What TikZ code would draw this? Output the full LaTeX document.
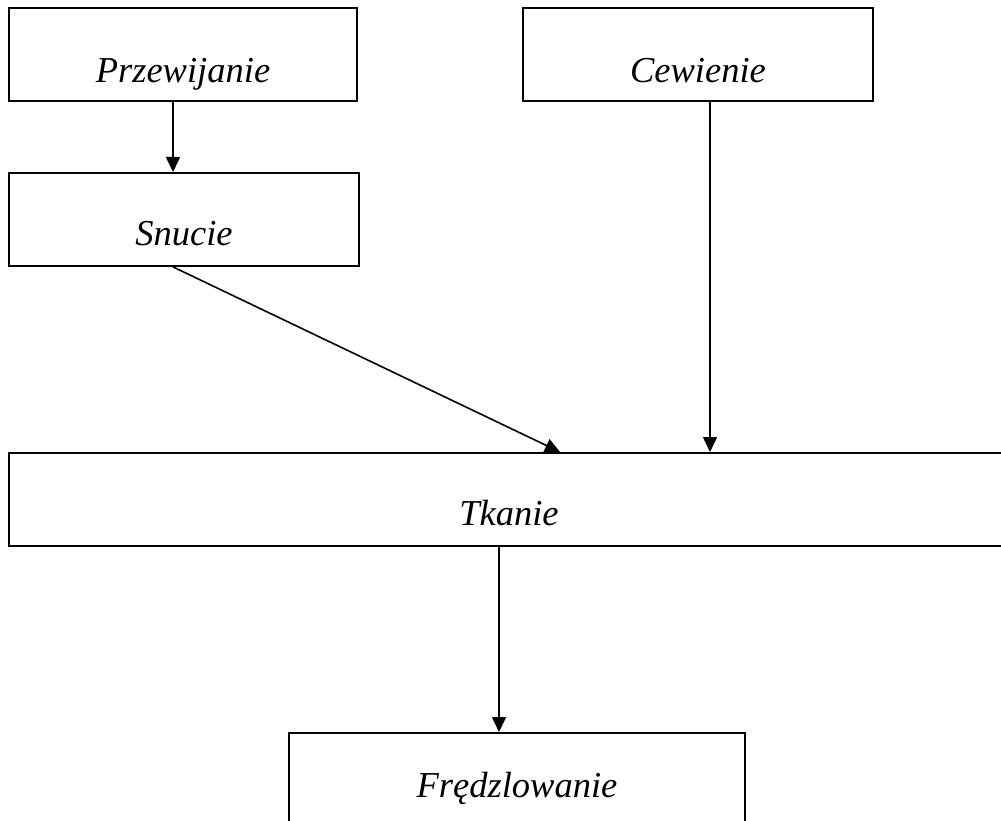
\documentclass[tikz,border=0pt]{standalone}
\usepackage{fontspec}
\setmainfont{Liberation Serif}
\usetikzlibrary{arrows.meta}

\begin{document}
\begin{tikzpicture}[
    x=1pt, y=-1pt,
    box/.style={rectangle, draw=black, line width=1.9pt, inner sep=0pt,
                text centered, text height=73pt, text depth=20pt,
                font=\itshape\fontsize{36.5}{40}\selectfont},
    arr/.style={-{Triangle[length=15pt,width=14pt]}, line width=1.6pt, draw=black},
  ]
  \useasboundingbox (0,0) rectangle (1001,821);
  \node[box, minimum width=348pt, text height=75pt, text depth=18pt, anchor=north] (przew) at (183,7) {Przewijanie};
  \node[box, minimum width=350pt, text height=75pt, text depth=18pt, anchor=north] (cew) at (698,7) {Cewienie};
  \node[box, minimum width=350pt, anchor=north] (snucie) at (184,172) {Snucie};
  \node[box, minimum width=1000pt, anchor=north] (tkanie) at (509,452) {Tkanie};
  \node[box, minimum width=456pt, text height=65pt, text depth=35pt, anchor=north] (fredz) at (517,732) {Frędzlowanie};
  \draw[arr] ([xshift=-10pt]przew.south) -- ([xshift=-11pt]snucie.north);
  \draw[arr] ([xshift=-11pt]snucie.south) -- ([xshift=51pt]tkanie.north);
  \draw[arr] ([xshift=12pt]cew.south) -- ([xshift=12pt]cew.south |- tkanie.north);
  \draw[arr] ([xshift=-18pt]fredz.north |- tkanie.south) -- ([xshift=-18pt]fredz.north);
\end{tikzpicture}
\end{document}
